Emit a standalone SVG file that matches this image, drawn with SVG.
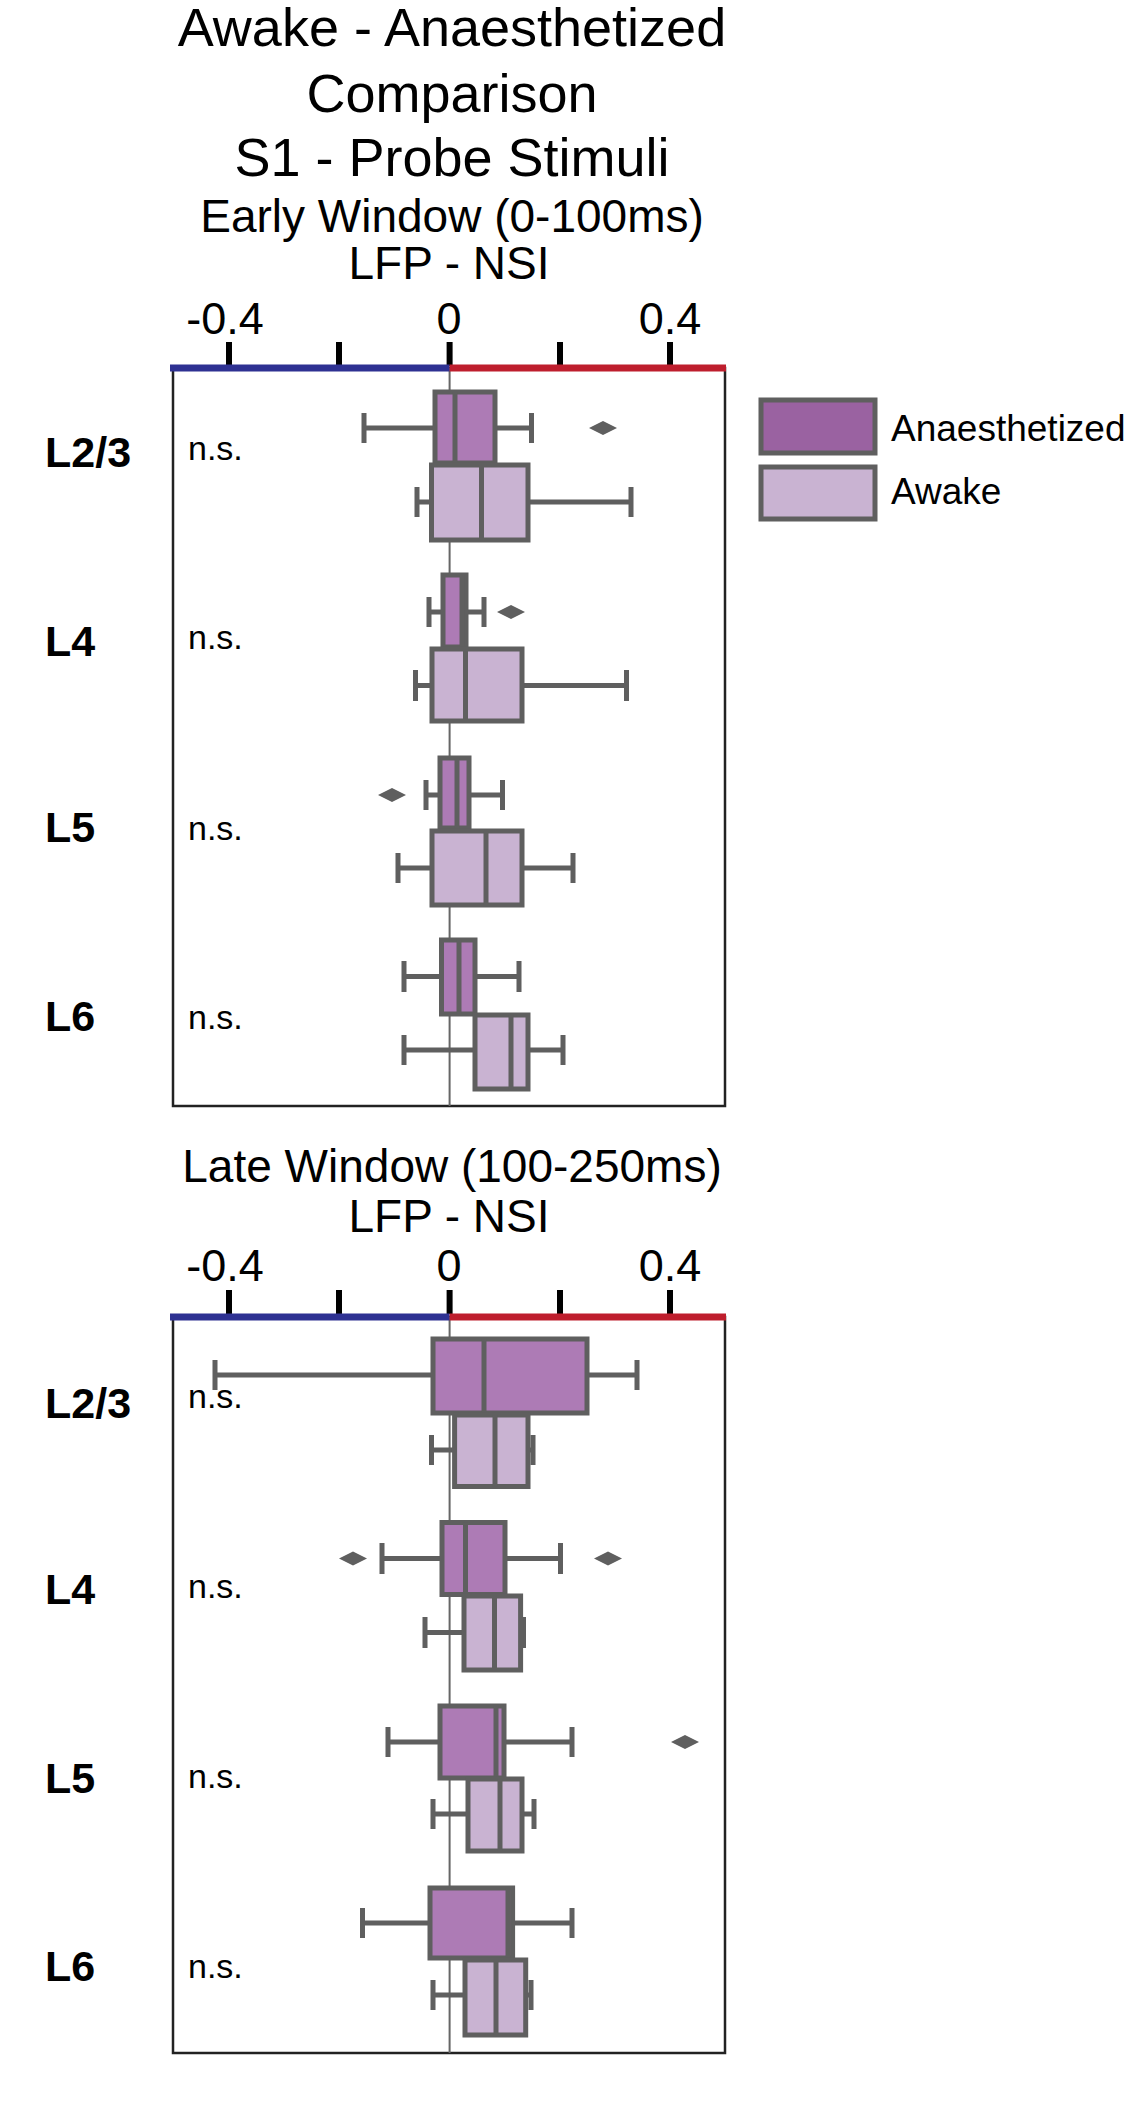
<svg xmlns="http://www.w3.org/2000/svg" width="1137" height="2127" viewBox="0 0 1137 2127">
<style>
text{font-family:"Liberation Sans",Arial,sans-serif;fill:#000}
.t{font-size:54px;text-anchor:middle}
.s{font-size:46px;text-anchor:middle}
.k{font-size:45px;text-anchor:middle}
.l{font-size:43px;font-weight:bold}
.n{font-size:34px}
.g{font-size:37px}
.frame{fill:none;stroke:#222;stroke-width:2.5}
.zero{stroke:#666;stroke-width:2}
.tick{stroke:#000;stroke-width:6}
.an{fill:#ad7bb5;stroke:#5f5f5f;stroke-width:5}
.aw{fill:#c9b3d2;stroke:#5f5f5f;stroke-width:5}
.w{stroke:#5f5f5f;stroke-width:5;fill:none}
.o{fill:#5f5f5f}
</style>
<g id="titles">
<text class="t" x="452" y="46">Awake - Anaesthetized</text>
<text class="t" x="452" y="112">Comparison</text>
<text class="t" x="452" y="176">S1 - Probe Stimuli</text>
<text class="s" x="452" y="232">Early Window (0-100ms)</text>
<text class="s" x="449" y="279">LFP - NSI</text>
<text class="s" x="452" y="1182">Late Window (100-250ms)</text>
<text class="s" x="449" y="1232">LFP - NSI</text>
</g>
<g id="axis-early">
<text class="k" x="225" y="334">-0.4</text><text class="k" x="449" y="334">0</text><text class="k" x="670" y="334">0.4</text>
<line class="tick" x1="229" y1="342" x2="229" y2="366"/><line class="tick" x1="339" y1="342" x2="339" y2="366"/><line class="tick" x1="449.6" y1="342" x2="449.6" y2="366"/><line class="tick" x1="560" y1="342" x2="560" y2="366"/><line class="tick" x1="670" y1="342" x2="670" y2="366"/>
<rect class="frame" x="173" y="368" width="552" height="738"/>
<line class="zero" x1="449.6" y1="368" x2="449.6" y2="1106"/>
<line x1="170" y1="368" x2="449.6" y2="368" stroke="#2e3192" stroke-width="7"/>
<line x1="449.6" y1="368" x2="726" y2="368" stroke="#be1e2d" stroke-width="7"/>
</g>
<g id="axis-late">
<text class="k" x="225" y="1281">-0.4</text><text class="k" x="449" y="1281">0</text><text class="k" x="670" y="1281">0.4</text>
<line class="tick" x1="229" y1="1290" x2="229" y2="1314"/><line class="tick" x1="339" y1="1290" x2="339" y2="1314"/><line class="tick" x1="449.6" y1="1290" x2="449.6" y2="1314"/><line class="tick" x1="560" y1="1290" x2="560" y2="1314"/><line class="tick" x1="670" y1="1290" x2="670" y2="1314"/>
<rect class="frame" x="173" y="1317" width="552" height="736"/>
<line class="zero" x1="449.6" y1="1317" x2="449.6" y2="2053"/>
<line x1="170" y1="1317" x2="449.6" y2="1317" stroke="#2e3192" stroke-width="7"/>
<line x1="449.6" y1="1317" x2="726" y2="1317" stroke="#be1e2d" stroke-width="7"/>
</g>
<g id="labels">
<text class="l" x="45" y="467">L2/3</text><text class="n" x="188" y="460">n.s.</text>
<text class="l" x="45" y="656">L4</text><text class="n" x="188" y="649">n.s.</text>
<text class="l" x="45" y="842">L5</text><text class="n" x="188" y="840">n.s.</text>
<text class="l" x="45" y="1031">L6</text><text class="n" x="188" y="1029">n.s.</text>
<text class="l" x="45" y="1418">L2/3</text><text class="n" x="188" y="1408">n.s.</text>
<text class="l" x="45" y="1604">L4</text><text class="n" x="188" y="1598">n.s.</text>
<text class="l" x="45" y="1793">L5</text><text class="n" x="188" y="1788">n.s.</text>
<text class="l" x="45" y="1981">L6</text><text class="n" x="188" y="1978">n.s.</text>
</g>
<g id="legend">
<rect x="761" y="400" width="114" height="53" fill="#9a62a1" stroke="#5f5f5f" stroke-width="5"/>
<rect x="761" y="467" width="114" height="52" fill="#c9b3d2" stroke="#5f5f5f" stroke-width="5"/>
<text class="g" x="891" y="441">Anaesthetized</text>
<text class="g" x="891" y="504">Awake</text>
</g>
<g id="early-boxes">
<path class="w" d="M364 428H435M495 428H531.5M364 413V443M531.5 413V443"/><rect class="an" x="435" y="392" width="60" height="71"/><line class="w" x1="455" y1="392" x2="455" y2="463"/><path class="o" d="M589 428l14-7 14 7-14 7z"/>
<path class="w" d="M417 502H431.5M528 502H631M417 487V517M631 487V517"/><rect class="aw" x="431.5" y="465" width="96.5" height="75"/><line class="w" x1="481.5" y1="465" x2="481.5" y2="540"/>
<path class="w" d="M429 612H443M466 612H484M429 597V627M484 597V627"/><rect class="an" x="443" y="575" width="23" height="72"/><line class="w" x1="462" y1="575" x2="462" y2="647"/><path class="o" d="M497 612l14-7 14 7-14 7z"/>
<path class="w" d="M415.5 685.5H432M522 685.5H626.5M415.5 670V701M626.5 670V701"/><rect class="aw" x="432" y="649" width="90" height="72"/><line class="w" x1="465.5" y1="649" x2="465.5" y2="721"/>
<path class="w" d="M426 795H440M469 795H502.5M426 780V810M502.5 780V810"/><rect class="an" x="440" y="758" width="29" height="70"/><line class="w" x1="457" y1="758" x2="457" y2="828"/><path class="o" d="M378 795l14-7 14 7-14 7z"/>
<path class="w" d="M398 868H432M522 868H573M398 853V883M573 853V883"/><rect class="aw" x="432" y="831" width="90" height="74"/><line class="w" x1="486" y1="831" x2="486" y2="905"/>
<path class="w" d="M404 976.5H441.5M475 976.5H519M404 961V992M519 961V992"/><rect class="an" x="441.5" y="940" width="33.5" height="74"/><line class="w" x1="459" y1="940" x2="459" y2="1014"/>
<path class="w" d="M404 1050H475M528 1050H563M404 1035V1065M563 1035V1065"/><rect class="aw" x="475" y="1015" width="53" height="74"/><line class="w" x1="511" y1="1015" x2="511" y2="1089"/>
</g>
<g id="late-boxes">
<path class="w" d="M215 1375H433M587 1375H637M215 1360V1390M637 1360V1390"/><rect class="an" x="433" y="1339" width="154" height="74"/><line class="w" x1="484" y1="1339" x2="484" y2="1413"/>
<path class="w" d="M431.5 1450H454.6M528 1450H533M431.5 1435V1465M533 1435V1465"/><rect class="aw" x="454.6" y="1415" width="73.4" height="71.5"/><line class="w" x1="495" y1="1415" x2="495" y2="1486.5"/>
<path class="w" d="M382 1558.5H442M505 1558.5H560.5M382 1543V1574M560.5 1543V1574"/><rect class="an" x="442" y="1522.5" width="63" height="72"/><line class="w" x1="465.5" y1="1522.5" x2="465.5" y2="1594.5"/><path class="o" d="M339 1558.5l14-7 14 7-14 7z"/><path class="o" d="M594 1558.5l14-7 14 7-14 7z"/>
<path class="w" d="M425 1632.5H464M520.6 1632.5H523.5M425 1617V1648M523.5 1617V1648"/><rect class="aw" x="464" y="1596" width="56.6" height="74"/><line class="w" x1="494.5" y1="1596" x2="494.5" y2="1670"/>
<path class="w" d="M388 1742H440M504 1742H572M388 1727V1757M572 1727V1757"/><rect class="an" x="440" y="1706" width="64" height="72"/><line class="w" x1="496" y1="1706" x2="496" y2="1778"/><path class="o" d="M671 1742l14-7 14 7-14 7z"/>
<path class="w" d="M433 1814H468M522 1814H534M433 1799V1829M534 1799V1829"/><rect class="aw" x="468" y="1779" width="54" height="72"/><line class="w" x1="500" y1="1779" x2="500" y2="1851"/>
<path class="w" d="M362.5 1923H430M512.6 1923H572M362.5 1908V1938M572 1908V1938"/><rect class="an" x="430" y="1888" width="82.6" height="70"/><line class="w" x1="508" y1="1888" x2="508" y2="1958"/>
<path class="w" d="M433 1995H465M525.7 1995H531M433 1980V2010M531 1980V2010"/><rect class="aw" x="465" y="1960" width="60.7" height="75"/><line class="w" x1="496" y1="1960" x2="496" y2="2035"/>
</g>
</svg>
